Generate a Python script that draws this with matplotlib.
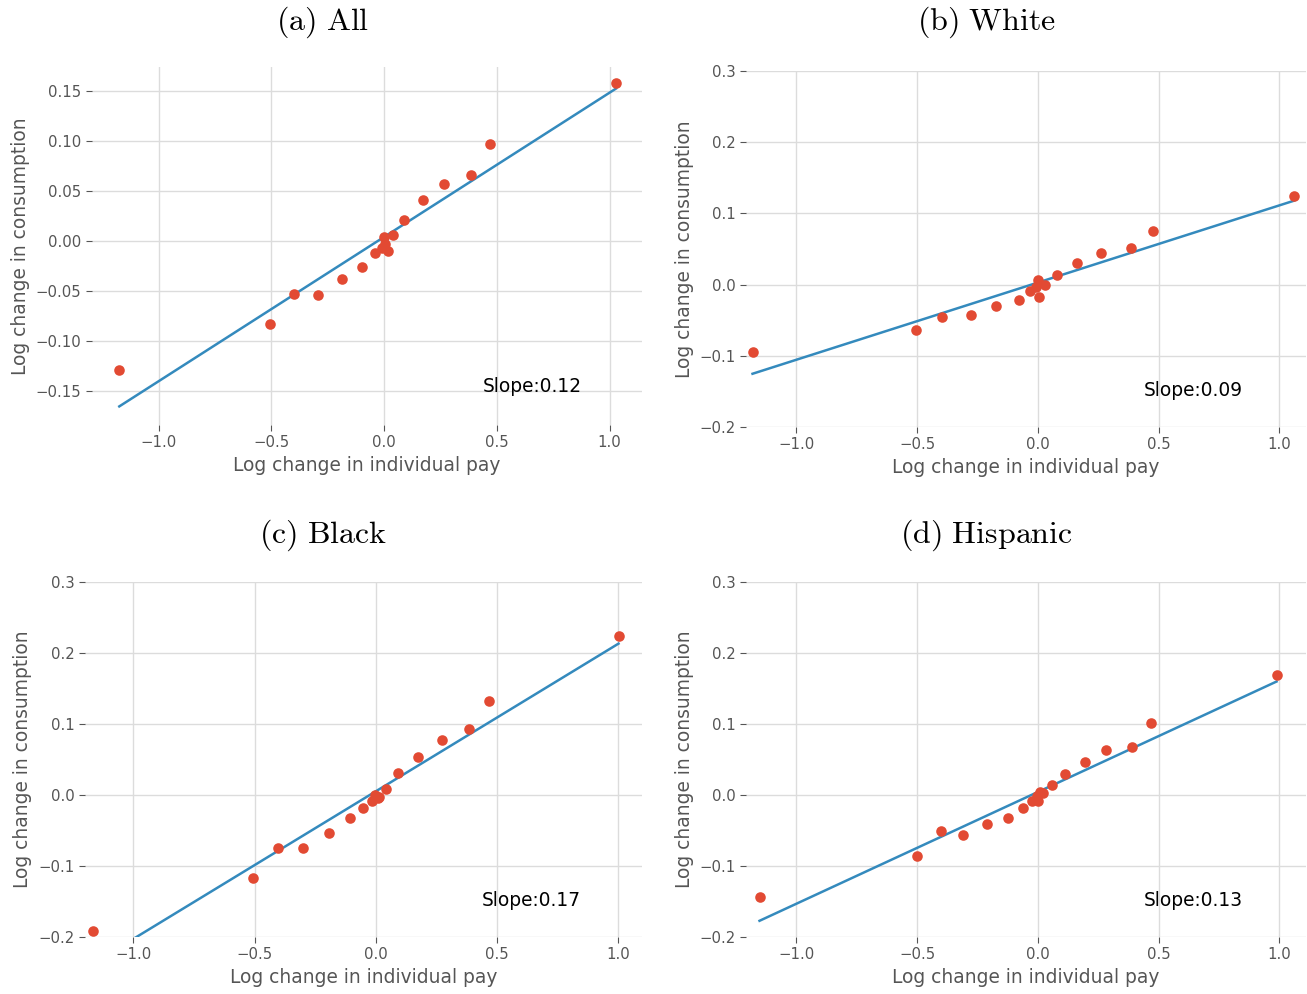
import matplotlib
matplotlib.use("Agg")
import matplotlib.pyplot as plt
import numpy as np

plt.rcParams['mathtext.fontset'] = 'cm'

# binned scatter points
titles = ["(a) All", "(b) White", "(c) Black", "(d) Hispanic"]
slope_labels = ["Slope:0.12", "Slope:0.09", "Slope:0.17", "Slope:0.13"]

x_all = [-1.174, -0.506, -0.398, -0.292, -0.185, -0.097, -0.040, -0.009, 0.0, 0.004, 0.018,
         0.039, 0.088, 0.171, 0.268, 0.387, 0.472, 1.029]
y_all = [-0.129, -0.083, -0.053, -0.054, -0.038, -0.026, -0.012, -0.007, 0.004, -0.003, -0.010,
         0.006, 0.021, 0.041, 0.057, 0.066, 0.097, 0.158]

x_white = [-1.182, -0.507, -0.396, -0.277, -0.172, -0.080, -0.031, -0.008, 0.0, 0.005, 0.031,
           0.077, 0.160, 0.262, 0.386, 0.476, 1.060]
y_white = [-0.094, -0.064, -0.045, -0.042, -0.030, -0.021, -0.009, -0.004, 0.006, -0.017, -0.001,
           0.014, 0.031, 0.044, 0.051, 0.075, 0.124]

x_black = [-1.166, -0.508, -0.402, -0.299, -0.191, -0.106, -0.050, -0.014, -0.003, 0.008, 0.012,
           0.043, 0.094, 0.174, 0.274, 0.386, 0.470, 1.003]
y_black = [-0.192, -0.117, -0.074, -0.075, -0.054, -0.033, -0.019, -0.009, 0.0, -0.004, -0.003,
           0.009, 0.031, 0.054, 0.078, 0.093, 0.132, 0.224]

x_hisp = [-1.153, -0.502, -0.401, -0.310, -0.209, -0.124, -0.063, -0.024, -0.006, 0.002, 0.008,
          0.022, 0.058, 0.114, 0.194, 0.282, 0.391, 0.468, 0.988]
y_hisp = [-0.143, -0.086, -0.050, -0.056, -0.041, -0.032, -0.018, -0.009, -0.002, -0.008, 0.004,
          0.003, 0.014, 0.030, 0.046, 0.063, 0.067, 0.102, 0.169]

# fitted line (intercept, slope) as drawn
fit_intercept = [0.004, 0.0029, 0.005, 0.0043]
fit_slope = [0.1443, 0.1084, 0.2076, 0.1574]

xs = [x_all, x_white, x_black, x_hisp]
ys = [y_all, y_white, y_black, y_hisp]

red = '#E24A33'
blue = '#348ABD'
grey = '#555555'

fig = plt.figure(figsize=(13.07, 9.94), dpi=100)
W, H = 1307.0, 994.0
# axes boxes in pixels: left, top, right, bottom
boxes = [(92, 67, 642, 425), (746, 71, 1306, 427), (85, 582, 642, 937), (746, 582, 1306, 937)]
xlims = [(-1.295, 1.144), (-1.209, 1.11), (-1.20, 1.10), (-1.209, 1.11)]
ylims = [(-0.184, 0.174), (-0.2, 0.3), (-0.2, 0.3), (-0.2, 0.3)]
title_pos = [(323, 22), (986, 22), (323, 535), (986, 535)]
ylabel_pad = [4, 4, 4.7, 4]
slope_y = [-0.145, -0.149, -0.149, -0.149]

for i in range(4):
    l, t, r, b = boxes[i]
    ax = fig.add_axes([l / W, 1 - b / H, (r - l) / W, (b - t) / H])
    x = np.array(xs[i])
    y = np.array(ys[i])
    ax.scatter(x, y, s=58, color=red, zorder=3, linewidths=0)
    lx = np.array([x.min(), x.max()])
    ax.plot(lx, fit_intercept[i] + fit_slope[i] * lx, color=blue, lw=1.8, zorder=2)
    ax.set_xlim(*xlims[i])
    ax.set_ylim(*ylims[i])
    ax.set_xticks([-1.0, -0.5, 0.0, 0.5, 1.0])
    if i == 0:
        ax.set_yticks([-0.15, -0.10, -0.05, 0.0, 0.05, 0.10, 0.15])
    else:
        ax.set_yticks([-0.2, -0.1, 0.0, 0.1, 0.2, 0.3])
    ax.grid(True, color='#dcdcdc', lw=1.0)
    ax.set_axisbelow(True)
    for sp in ax.spines.values():
        sp.set_visible(False)
    ax.tick_params(colors=grey, labelsize=10.7, length=4, direction='out')
    ax.set_xlabel("Log change in individual pay", fontsize=13.4, color=grey, labelpad=4)
    ax.set_ylabel("Log change in consumption", fontsize=13.4, color=grey, labelpad=ylabel_pad[i])
    ax.text(0.437, slope_y[i], slope_labels[i], fontsize=13.4, color='black', va='center')
    tx, ty = title_pos[i]
    fig.text(tx / W, 1 - ty / H, r'$\mathrm{' + titles[i].replace(' ', r'\ ') + '}$',
             fontsize=23, ha='center', va='center')

fig.savefig("out.png", dpi=100)
